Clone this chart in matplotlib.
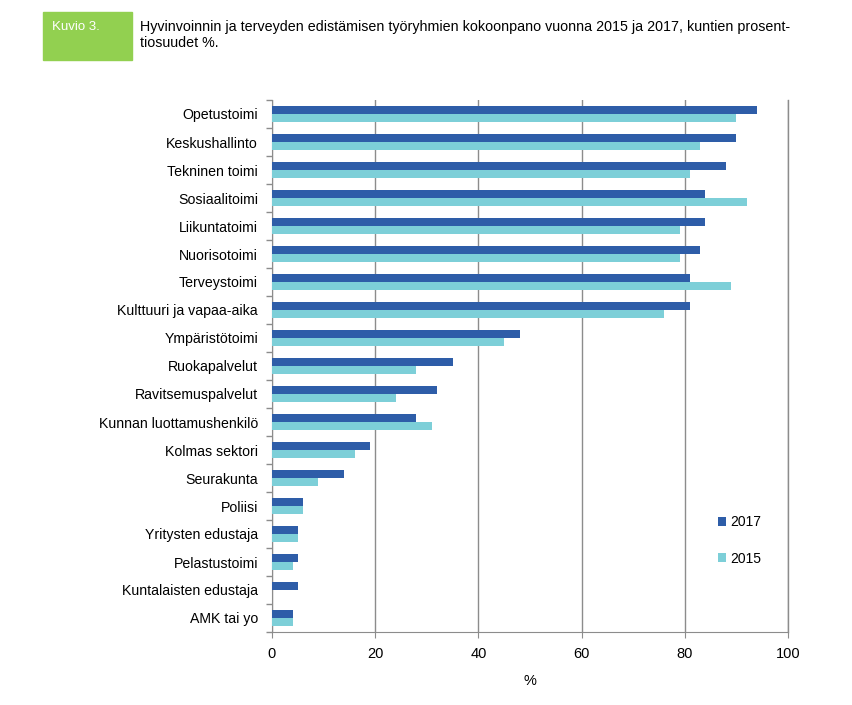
import numpy as np
import matplotlib
matplotlib.use("Agg")
import matplotlib.pyplot as plt
from matplotlib.patches import Rectangle

# Data
categories = [
    "Opetustoimi", "Keskushallinto", "Tekninen toimi", "Sosiaalitoimi",
    "Liikuntatoimi", "Nuorisotoimi", "Terveystoimi", "Kulttuuri ja vapaa-aika",
    "Ympäristötoimi", "Ruokapalvelut", "Ravitsemuspalvelut",
    "Kunnan luottamushenkilö", "Kolmas sektori", "Seurakunta", "Poliisi",
    "Yritysten edustaja", "Pelastustoimi", "Kuntalaisten edustaja", "AMK tai yo",
]
values_2017 = [94, 90, 88, 84, 84, 83, 81, 81, 48, 35, 32, 28, 19, 14, 6, 5, 5, 5, 4]
values_2015 = [90, 83, 81, 92, 79, 79, 89, 76, 45, 28, 24, 31, 16, 9, 6, 5, 4, 0, 4]
x_ticks = [0, 20, 40, 60, 80, 100]

title_line1 = ("Hyvinvoinnin ja terveyden edistämisen työryhmien kokoonpano vuonna "
               "2015 ja 2017, kuntien prosent-")
title_line2 = "tiosuudet %."

c2017 = "#2E5DA8"
c2015 = "#7DCFD8"
grid_c = "#8C8C8C"

plt.rcParams["font.family"] = ["Liberation Sans", "DejaVu Sans"]

fig = plt.figure(figsize=(8.52, 7.05), dpi=100)
ax = fig.add_axes([272 / 852, 1 - 632 / 705, 516 / 852, 532 / 705])

n = len(categories)
pos = np.arange(n)
h = 0.29
ax.barh(pos - h / 2, values_2017, height=h, color=c2017, label="2017", zorder=3)
ax.barh(pos + h / 2, values_2015, height=h, color=c2015, label="2015", zorder=3)

ax.set_ylim(n - 0.5, -0.5)
ax.set_xlim(0, 100)
ax.set_xticks(x_ticks)
ax.set_xticklabels([str(v) for v in x_ticks], fontsize=10.5)
ax.set_yticks(pos)
ax.set_yticklabels(categories, fontsize=10.2, va="center_baseline")
ax.tick_params(axis="y", length=0, pad=10)
ax.set_yticks(np.arange(-0.5, n, 1.0), minor=True)
ax.tick_params(axis="y", which="minor", length=4, color=grid_c, width=1)
ax.tick_params(axis="x", length=4, color=grid_c, pad=7)

ax.xaxis.grid(True, color=grid_c, linewidth=1, zorder=0)
ax.axvline(100, color=grid_c, linewidth=1, zorder=0, clip_on=False)
for s in ["top", "right"]:
    ax.spines[s].set_visible(False)
for s in ["left", "bottom"]:
    ax.spines[s].set_color(grid_c)

ax.set_xlabel("%", fontsize=10.5, labelpad=9)

ax.legend(loc="center left", bbox_to_anchor=(0.84, 0.172), frameon=False,
          fontsize=10, handlelength=0.6, handleheight=0.6, handletextpad=0.3,
          labelspacing=1.6)

# Header: green "Kuvio" box and title
fig.patches.append(Rectangle((43 / 852, 1 - 60 / 705), 89 / 852, 48 / 705,
                             transform=fig.transFigure, color="#92D050", zorder=0))
fig.text(52 / 852, 1 - 27 / 705, "Kuvio 3.", color="white", fontsize=9.5,
         va="center", ha="left")
fig.text(140 / 852, 1 - 27 / 705, title_line1, fontsize=10.3, va="center", ha="left")
fig.text(140 / 852, 1 - 43 / 705, title_line2, fontsize=10.3, va="center", ha="left")

fig.savefig("out.png", dpi=100)
